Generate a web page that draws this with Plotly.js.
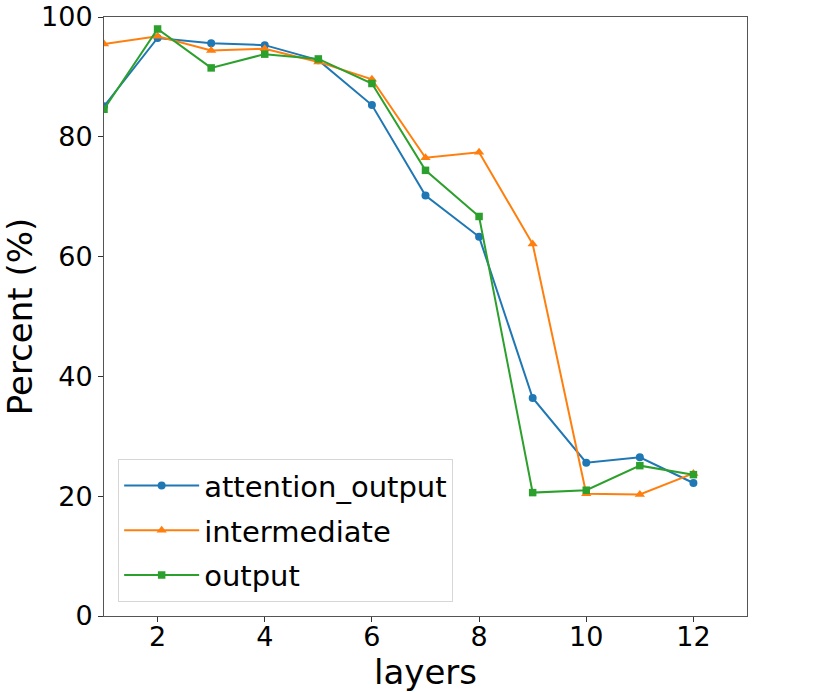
<!DOCTYPE html>
<html><head><meta charset="utf-8">
<script src="https://cdn.plot.ly/plotly-3.0.1.min.js"></script>
<style>body{margin:0;background:#fff}#chart{width:830px;height:692px}</style>
</head><body><div id="chart"></div>
<script>
const layers = [1,2,3,4,5,6,7,8,9,10,11,12];
const attentionOutput = [85.1,96.5,95.6,95.3,92.8,85.3,70.2,63.3,36.4,25.6,26.5,22.2];
const intermediate = [95.5,96.8,94.4,94.7,92.5,89.6,76.5,77.4,62.1,20.4,20.3,23.8];
const output = [84.6,98.0,91.5,93.8,93.0,88.9,74.4,66.7,20.6,21.0,25.1,23.6];
const seriesNames = ['attention_output','intermediate','output'];
const xTicks = [2,4,6,8,10,12];
const yTicks = [0,20,40,60,80,100];

const mk = (y, name, color, symbol, size) => ({
  x: layers, y: y, name: name, legendgroup: name, type: 'scatter', mode: 'lines+markers',
  line: {color: color, width: 2},
  marker: {color: color, symbol: symbol, size: size}
});
const data = [
  mk(attentionOutput, seriesNames[0], '#1f77b4', 'circle', 8),
  mk(intermediate, seriesNames[1], '#ff7f0e', 'triangle-up', 9),
  mk(output, seriesNames[2], '#2ca02c', 'square', 7.5)
];
const layout = {
  width: 830, height: 692,
  margin: {l: 104, r: 83, t: 17, b: 76},
  paper_bgcolor: '#fff', plot_bgcolor: '#fff',
  font: {family: 'DejaVu Sans, sans-serif', color: '#000', size: 27},
  showlegend: true,
  legend: {x: 0.022, y: 0.023, xanchor: 'left', yanchor: 'bottom',
    bgcolor: 'rgba(255,255,255,0.8)', bordercolor: '#d6d6d6', borderwidth: 1,
    font: {size: 29}, itemwidth: 75, tracegroupgap: 4},
  xaxis: {range: [1, 13], tickvals: xTicks, ticks: 'outside', ticklen: 5, tickwidth: 1,
    tickcolor: '#333', showgrid: false, zeroline: false, showline: true, linecolor: '#555',
    linewidth: 1, mirror: true, tickfont: {size: 27}, ticklabelstandoff: -8,
    title: {text: 'layers', font: {size: 34}, standoff: 4}},
  yaxis: {range: [0, 100], tickvals: yTicks, ticks: 'outside', ticklen: 5, tickwidth: 1,
    tickcolor: '#333', showgrid: false, zeroline: false, showline: true, linecolor: '#555',
    linewidth: 1, mirror: true, tickfont: {size: 27}, ticklabeloverflow: 'allow',
    title: {text: 'Percent (%)', font: {size: 34}, standoff: 14}}
};
Plotly.newPlot('chart', data, layout, {displayModeBar: false, staticPlot: true});
</script></body></html>
